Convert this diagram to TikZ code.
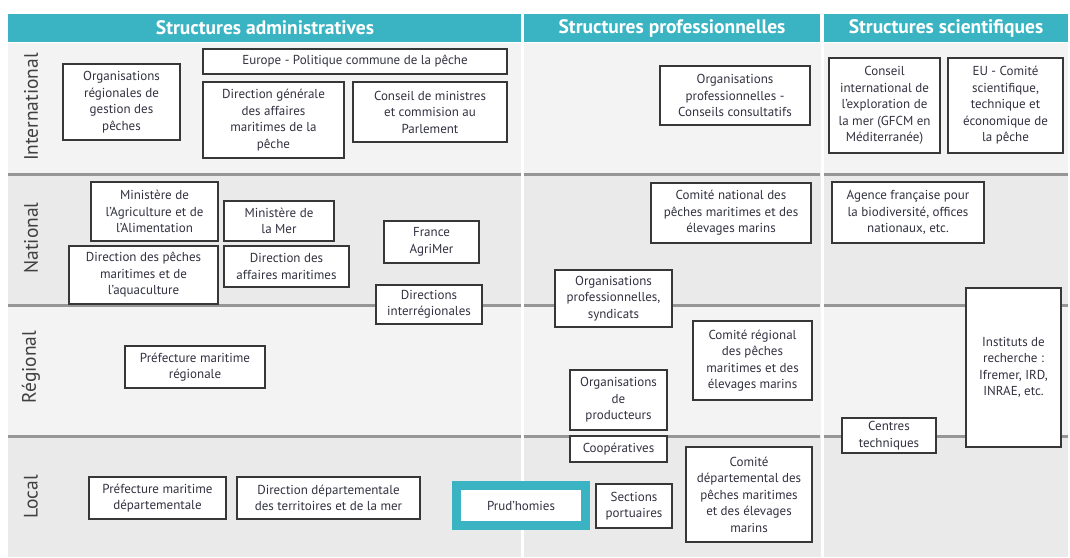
\documentclass[tikz,border=0pt]{standalone}
\usepackage{fontspec}
\setmainfont{PT Sans}
\definecolor{tealh}{RGB}{58,180,195}
\definecolor{bgA}{RGB}{243,243,243}
\definecolor{bgB}{RGB}{234,234,234}
\definecolor{sepc}{RGB}{150,150,150}
\definecolor{bord}{RGB}{55,55,55}
\definecolor{txt}{RGB}{50,50,65}
\tikzset{
  box/.style={draw=bord,line width=1.8pt,fill=white,inner sep=0pt,align=center,
    font=\fontsize{13}{16.5}\selectfont,text=txt},
  head/.style={text=white,font=\fontsize{19.5}{22}\selectfont\bfseries},
  rowlab/.style={rotate=90,text=black!75,font=\fontsize{19.5}{22}\selectfont},
  sepline/.style={draw=sepc,line width=3pt},
}
\newcommand\bx[6]{%
  \pgfmathsetmacro\bw{#4-#2}\pgfmathsetmacro\bh{#5-#3}%
  \pgfmathsetmacro\bcx{(#2+#4)/2}\pgfmathsetmacro\bcy{(#3+#5)/2}%
  \node[box,minimum width=\bw pt,minimum height=\bh pt] (#1) at (\bcx,\bcy) {#6};}
\begin{document}
\begin{tikzpicture}[x=1pt,y=-1pt]
\useasboundingbox[fill=white] (0,0) rectangle (1070,557);
% backgrounds
\foreach \ya/\yb/\c in {43/174/bgA,174/305/bgB,305/436/bgA,436/557/bgB}{
  \fill[\c] (8,\ya) rectangle (521,\yb);
  \fill[\c] (523.5,\ya) rectangle (820.5,\yb);
  \fill[\c] (823.5,\ya) rectangle (1068,\yb);
}
% header
\fill[tealh] (8,14) rectangle (520.5,42);
\fill[tealh] (523.5,14) rectangle (820,42);
\fill[tealh] (824,14) rectangle (1068,42);
\node[head] (h1) at (265,28) {Structures administratives};
\node[head] (h2) at (672,28) {Structures professionnelles};
\node[head] (h3) at (946,28) {Structures scientifiques};
% row separators
\foreach \y in {174,305,436}{
  \draw[sepline] (8,\y) -- (520.5,\y);
  \draw[sepline] (523.5,\y) -- (820,\y);
  \draw[sepline] (824,\y) -- (1068,\y);
}
% row labels
\node[rowlab] (l1) at (31,107) {International};
\node[rowlab] (l2) at (31,238) {National};
\node[rowlab] (l3) at (31,367) {Régional};
\node[rowlab] (l4) at (31,497) {Local};
% International
\bx{orgreg}{63}{64}{180}{140}{Organisations\\régionales de\\gestion des\\pêches}
\bx{europe}{203}{49}{507}{74}{Europe - Politique commune de la pêche}
\bx{dirgen}{203}{82}{344}{158}{Direction générale\\des affaires\\maritimes de la\\pêche}
\bx{consmin}{353}{82}{507}{142}{Conseil de ministres\\et commision au\\Parlement}
\bx{orgprofint}{660}{66}{810}{125}{Organisations\\professionnelles -\\Conseils consultatifs}
\bx{ciem}{829}{58}{940}{153}{Conseil\\international de\\l'exploration de\\la mer (GFCM en\\Méditerranée)}
\bx{eucom}{948}{58}{1063}{153}{EU - Comité\\scientifique,\\technique et\\économique de\\la pêche}
% National
\bx{minagri}{91}{182}{218}{241}{Ministère de\\l'Agriculture et de\\l'Alimentation}
\bx{minmer}{224}{201}{334}{241}{Ministère de\\la Mer}
\bx{dirpeches}{69}{246}{218}{304}{Direction des pêches\\maritimes et de\\l'aquaculture}
\bx{diraff}{224}{246}{349}{287}{Direction des\\affaires maritimes}
\bx{agrimer}{384}{221}{479}{263}{France\\AgriMer}
\bx{dirinter}{376}{285}{482}{324}{Directions\\interrégionales}
\bx{cnpmem}{651}{183}{811}{243}{Comité national des\\pêches maritimes et des\\élevages marins}
\bx{afb}{832}{182}{984}{243}{Agence française pour\\la biodiversité, offices\\nationaux, etc.}
\bx{orgprofsyn}{555}{270}{672}{327}{Organisations\\professionnelles,\\syndicats}
\bx{instituts}{966}{288}{1061}{447}{Instituts de\\recherche :\\Ifremer, IRD,\\INRAE, etc.}
% Regional
\bx{prefreg}{125}{346}{265}{388}{Préfecture maritime\\régionale}
\bx{crpmem}{693}{321}{812}{400}{Comité régional\\des pêches\\maritimes et des\\élevages marins}
\bx{orgprod}{570}{370}{667}{430}{Organisations\\de\\producteurs}
\bx{centres}{842}{418}{936}{453}{Centres\\techniques}
% Local
\bx{coop}{570}{436}{667}{462}{Coopératives}
\bx{prefdep}{89}{477}{226}{519}{Préfecture maritime\\départementale}
\bx{ddtm}{237}{477}{420}{519}{Direction départementale\\des territoires et de la mer}
\node[box,draw=tealh,line width=9pt,minimum width=129pt,minimum height=40pt] (prud) at (521,505.5) {Prud'homies};
\bx{sections}{596}{484}{672}{528}{Sections\\portuaires}
\bx{cdpmem}{686}{447}{812}{542}{Comité\\départemental des\\pêches maritimes\\et des élevages\\marins}
\end{tikzpicture}
\end{document}
